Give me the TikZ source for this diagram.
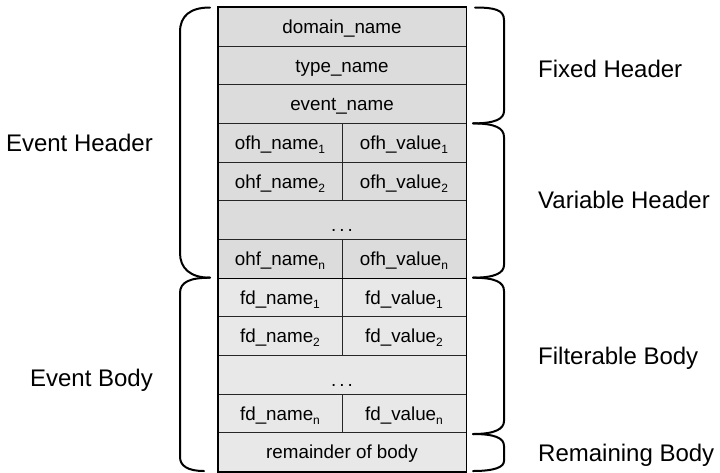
\documentclass[tikz,border=0pt]{standalone}
\usepackage{fontspec}
\setmainfont{Liberation Sans}
\definecolor{hdrgray}{HTML}{DCDCDC}
\definecolor{bdygray}{HTML}{E8E8E8}
\newcommand\tblfont{\fontsize{18.8}{22}\selectfont}
\newcommand\capfont{\fontsize{24}{28}\selectfont}
\newcommand\cellsub[1]{\raisebox{-4pt}{\fontsize{12}{12}\selectfont #1}}
\newcommand\celldots{\raisebox{-5pt}{.\kern3pt.\kern3pt.}}
\tikzset{
  cell/.style={draw=black!85, line width=0.8pt, minimum height=38.65pt,
    inner sep=0pt, font=\tblfont, text height=17.6pt, text depth=4pt},
  wide/.style={cell, minimum width=248pt},
  half/.style={cell, minimum width=124pt},
  hdr/.style={fill=hdrgray},
  bdy/.style={fill=bdygray},
  caption/.style={font=\capfont, inner sep=0pt, anchor=base},
  bracket/.style={line width=2pt, line cap=round, line join=round},
  frame/.style={line width=1.8pt}
}
\begin{document}
\begin{tikzpicture}[x=1pt, y=-1pt]
\useasboundingbox (0,0) rectangle (720,472);

% fixed header rows
\node[wide, hdr] (dom)  at (342, 26.825) {domain\_name};
\node[wide, hdr] (typ)  at (342, 65.475) {type\_name};
\node[wide, hdr] (evt)  at (342,104.125) {event\_name};
% optional header fields
\node[half, hdr] (hna)  at (280,142.775) {ofh\_name\cellsub{1}};
\node[half, hdr] (hva)  at (404,142.775) {ofh\_value\cellsub{1}};
\node[half, hdr] (hnb)  at (280,181.425) {ohf\_name\cellsub{2}};
\node[half, hdr] (hvb)  at (404,181.425) {ofh\_value\cellsub{2}};
\node[wide, hdr] (hdot) at (342,220.075) {\celldots};
\node[half, hdr] (hnn)  at (280,258.725) {ohf\_name\cellsub{n}};
\node[half, hdr] (hvn)  at (404,258.725) {ofh\_value\cellsub{n}};
% filterable body fields
\node[half, bdy] (bna)  at (280,297.375) {fd\_name\cellsub{1}};
\node[half, bdy] (bva)  at (404,297.375) {fd\_value\cellsub{1}};
\node[half, bdy] (bnb)  at (280,336.025) {fd\_name\cellsub{2}};
\node[half, bdy] (bvb)  at (404,336.025) {fd\_value\cellsub{2}};
\node[wide, bdy] (bdot) at (342,374.675) {\celldots};
\node[half, bdy] (bnn)  at (280,413.325) {fd\_name\cellsub{n}};
\node[half, bdy] (bvn)  at (404,413.325) {fd\_value\cellsub{n}};
\node[wide, bdy] (rem)  at (342,451.975) {remainder of body};

% outer frame and header/body separator
\draw[frame] (dom.north west) rectangle (rem.south east);
\draw[frame] (hnn.south west) -- (hvn.south east);

% left brackets
\draw[bracket] (210,7.5) .. controls (190,7.5) and (180,16) .. (180,32)
  -- (180,253) .. controls (180,268) and (190,277.7) .. (210,277.7);
\draw[bracket] (210,277.7) .. controls (190,277.7) and (180,282) .. (180,293)
  -- (180,457) .. controls (180,466) and (188,471) .. (204,471);

% right brackets
\draw[bracket] (475,7.5) .. controls (495,7.5) and (504,10) .. (504,20)
  -- (504,111) .. controls (504,119) and (495,123.4) .. (473,123.4);
\draw[bracket] (473,123.4) .. controls (495,123.4) and (504,128) .. (504,137)
  -- (504,265) .. controls (504,273) and (495,277.7) .. (473,277.7);
\draw[bracket] (473,277.7) .. controls (495,277.7) and (504,282) .. (504,291)
  -- (504,421) .. controls (504,429) and (495,434) .. (473,434);
\draw[bracket] (473,434) .. controls (495,434) and (504,438) .. (504,446)
  -- (504,461) .. controls (504,467) and (495,471) .. (473,471);

% captions
\node[caption, anchor=base east] (evh) at (153,151.5) {Event Header};
\node[caption, anchor=base east] (evb) at (153,386) {Event Body};
\node[caption, anchor=base west] (fxh) at (538,77) {Fixed Header};
\node[caption, anchor=base west] (vrh) at (538,208.5) {Variable Header};
\node[caption, anchor=base west] (flb) at (538,364.5) {Filterable Body};
\node[caption, anchor=base west] (rmb) at (538,461) {Remaining Body};
\end{tikzpicture}
\end{document}
